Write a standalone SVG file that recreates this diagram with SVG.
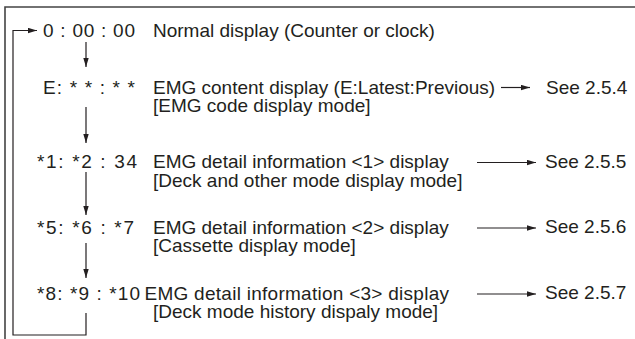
<svg xmlns="http://www.w3.org/2000/svg" width="635" height="339" viewBox="0 0 635 339">
<style>
text{font-family:"Liberation Sans",Arial,Helvetica,sans-serif;font-size:19px;fill:#231f20}
.frame{stroke:#444;stroke-width:1.6;fill:none}
.c{stroke:#231f20;stroke-width:1.2;fill:none}
</style>
<defs>
<marker id="ah" viewBox="0 0 10 6" refX="10" refY="3" markerWidth="9" markerHeight="6" markerUnits="userSpaceOnUse" orient="auto">
<path d="M0,0 L10,3 L0,6 z" fill="#231f20"/>
</marker>
</defs>
<rect width="635" height="339" fill="#fff"/>
<g id="frame">
<path class="frame" d="M5,339 V7 H635"/>
</g>
<g id="row1">
<text x="43" y="36.5" textLength="92" xml:space="preserve">0 : 00 : 00</text>
<text x="153" y="36.5">Normal display (Counter or clock)</text>
</g>
<g id="row2">
<text x="43" y="93.5" textLength="92" xml:space="preserve">E: * * : * *</text>
<text x="153" y="93.5">EMG content display (E:Latest:Previous)</text>
<text x="153" y="112">[EMG code display mode]</text>
</g>
<g id="ref254"><text x="546" y="93.5">See 2.5.4</text></g>
<g id="row3">
<text x="37" y="168" textLength="100" xml:space="preserve">*1: *2 : 34</text>
<text x="153" y="168">EMG detail information &lt;1&gt; display</text>
<text x="153" y="186.5">[Deck and other mode display mode]</text>
</g>
<g id="ref255"><text x="545" y="168">See 2.5.5</text></g>
<g id="row4">
<text x="37" y="233.5" textLength="97" xml:space="preserve">*5: *6 : *7</text>
<text x="153" y="233.5">EMG detail information &lt;2&gt; display</text>
<text x="153" y="252">[Cassette display mode]</text>
</g>
<g id="ref256"><text x="545" y="233">See 2.5.6</text></g>
<g id="row5">
<text x="37" y="299.5" textLength="103" xml:space="preserve">*8: *9 : *10</text>
<text x="144.5" y="299.5" textLength="304.5">EMG detail information &lt;3&gt; display</text>
<text x="153" y="318">[Deck mode history dispaly mode]</text>
</g>
<g id="ref257"><text x="545" y="299">See 2.5.7</text></g>
<g id="connectors">
<path class="c" d="M86,42 V67" marker-end="url(#ah)"/>
<path class="c" d="M86,107 V143" marker-end="url(#ah)"/>
<path class="c" d="M86,172 V215" marker-end="url(#ah)"/>
<path class="c" d="M86,243 V278" marker-end="url(#ah)"/>
<path class="c" d="M86,313 V335 H13 V30.5 H37" marker-end="url(#ah)"/>
<path class="c" d="M501,87.5 H530" marker-end="url(#ah)"/>
<path class="c" d="M477,162.5 H536" marker-end="url(#ah)"/>
<path class="c" d="M477,228 H536" marker-end="url(#ah)"/>
<path class="c" d="M477,294 H536" marker-end="url(#ah)"/>
</g>
</svg>
